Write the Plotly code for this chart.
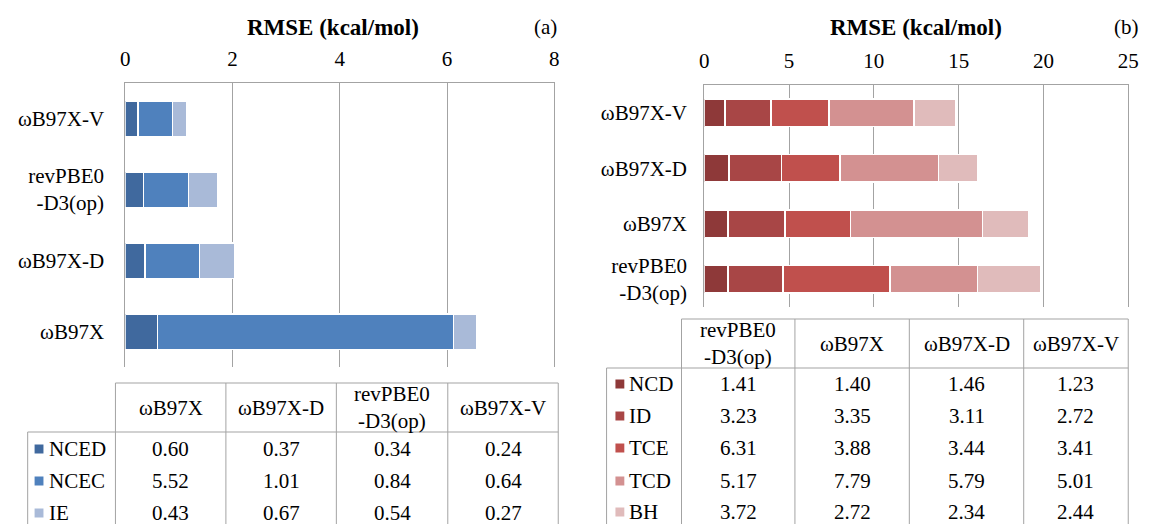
import plotly.graph_objects as go

W, H = 1157, 524
FONT = "Liberation Serif, Times New Roman, DejaVu Serif, serif"

# ---------- data ----------
cats_a = ["ωB97X", "ωB97X-D", "revPBE0-D3(op)", "ωB97X-V"]
labels_a = ["ωB97X", "ωB97X-D", "revPBE0<br>-D3(op)", "ωB97X-V"]
series_a = ["NCED", "NCEC", "IE"]
nced = [0.60, 0.37, 0.34, 0.24]
ncec = [5.52, 1.01, 0.84, 0.64]
ie = [0.43, 0.67, 0.54, 0.27]
values_a = [nced, ncec, ie]
colors_a = ["#40699E", "#4F81BD", "#A9BAD8"]
ticks_a = [0, 2, 4, 6, 8]

cats_b = ["revPBE0-D3(op)", "ωB97X", "ωB97X-D", "ωB97X-V"]
labels_b = ["revPBE0<br>-D3(op)", "ωB97X", "ωB97X-D", "ωB97X-V"]
series_b = ["NCD", "ID", "TCE", "TCD", "BH"]
ncd = [1.41, 1.40, 1.46, 1.23]
idd = [3.23, 3.35, 3.11, 2.72]
tce = [6.31, 3.88, 3.44, 3.41]
tcd = [5.17, 7.79, 5.79, 5.01]
bh = [3.72, 2.72, 2.34, 2.44]
values_b = [ncd, idd, tce, tcd, bh]
colors_b = ["#8E3939", "#A84646", "#C0504D", "#D39191", "#E0BBBB"]
ticks_b = [0, 5, 10, 15, 20, 25]


def px(x):
    return x / W


def py(y):
    return 1 - y / H


GRID = "#A3A3A3"
fig = go.Figure()

for name, vals, col in zip(series_a, values_a, colors_a):
    fig.add_trace(go.Bar(y=cats_a, x=vals, orientation="h", name=name,
                         marker=dict(color=col, line=dict(color="white", width=1.5)),
                         xaxis="x", yaxis="y", hoverinfo="x+name"))
for name, vals, col in zip(series_b, values_b, colors_b):
    fig.add_trace(go.Bar(y=cats_b, x=vals, orientation="h", name=name,
                         marker=dict(color=col, line=dict(color="white", width=1.5)),
                         xaxis="x2", yaxis="y2", hoverinfo="x+name"))

axfont = dict(family=FONT, size=21, color="black")
common_x = dict(side="top", showgrid=True, gridcolor=GRID, gridwidth=1, zeroline=False,
                showline=True, linecolor=GRID, linewidth=1, ticks="",
                tickfont=axfont, ticklabelstandoff=8, fixedrange=True)
common_y = dict(showgrid=False, zeroline=False, showline=True, linecolor=GRID, linewidth=1,
                mirror=True, ticks="", tickfont=axfont, fixedrange=True)

fig.update_layout(
    width=W, height=H, margin=dict(l=0, r=0, t=0, b=0),
    paper_bgcolor="white", plot_bgcolor="white", showlegend=False,
    barmode="stack", bargap=0.5,
    font=dict(family=FONT, color="black"),
    xaxis=dict(common_x, domain=[px(122), px(557)], range=[0, 8], tickvals=ticks_a, anchor="y"),
    yaxis=dict(common_y, domain=[py(367), py(83)], anchor="x", ticklabelstandoff=16,
               categoryorder="array", categoryarray=cats_a, tickvals=cats_a, ticktext=labels_a),
    xaxis2=dict(common_x, domain=[px(709), px(1139)], range=[0, 25], tickvals=ticks_b, anchor="y2"),
    yaxis2=dict(common_y, domain=[py(307), py(85)], anchor="x2", ticklabelstandoff=12,
                categoryorder="array", categoryarray=cats_b, tickvals=cats_b, ticktext=labels_b),
)

ann = []
shapes = []


def text(x, y, s, size=21, bold=False, xanchor="center"):
    if bold:
        s = "<b>" + s + "</b>"
    ann.append(dict(x=px(x), y=py(y), xref="paper", yref="paper", text=s, showarrow=False,
                    xanchor=xanchor, yanchor="middle", font=dict(family=FONT, size=size, color="black")))


def line(x0, y0, x1, y1):
    shapes.append(dict(type="line", xref="paper", yref="paper", x0=px(x0), y0=py(y0),
                       x1=px(x1), y1=py(y1), line=dict(color=GRID, width=1)))


# titles
text(333, 28, "RMSE (kcal/mol)", size=23, bold=True)
text(548, 27, "(a)")
text(924, 28, "RMSE (kcal/mol)", size=23, bold=True)
text(1137, 27, "(b)")


def table(cols_x, head_top, head_bot, left, row_ys, headers, series, values, colors, sq_x, lab_x):
    bottom = H
    line(cols_x[0], head_top, cols_x[-1], head_top)
    line(left, head_bot, cols_x[-1], head_bot)
    line(left, head_bot, left, bottom)
    for i, cx in enumerate(cols_x):
        line(cx, head_top, cx, bottom)
    for j, hdr in enumerate(headers):
        cx = (cols_x[j] + cols_x[j + 1]) / 2
        text(cx, (head_top + head_bot) / 2, hdr)
    for r, (name, vals, col) in enumerate(zip(series, values, colors)):
        yc = row_ys[r]
        shapes.append(dict(type="rect", xref="paper", yref="paper",
                           x0=px(sq_x), x1=px(sq_x + 9), y0=py(yc + 4.5), y1=py(yc - 4.5),
                           fillcolor=col, line=dict(width=0)))
        text(lab_x, yc, name, xanchor="left")
        for j, v in enumerate(vals):
            cx = (cols_x[j] + cols_x[j + 1]) / 2
            text(cx, yc, f"{v:.2f}")


table([112, 224, 336, 449, 561], 383, 432, 23, [449, 481, 513], labels_a,
      series_a, values_a, colors_a, 30, 43)
table([686, 801, 917, 1033, 1139], 319, 368, 610, [384, 416, 448, 481, 512], labels_b,
      series_b, values_b, colors_b, 619, 631)

fig.update_layout(annotations=ann, shapes=shapes)
fig.write_html("out.html")
